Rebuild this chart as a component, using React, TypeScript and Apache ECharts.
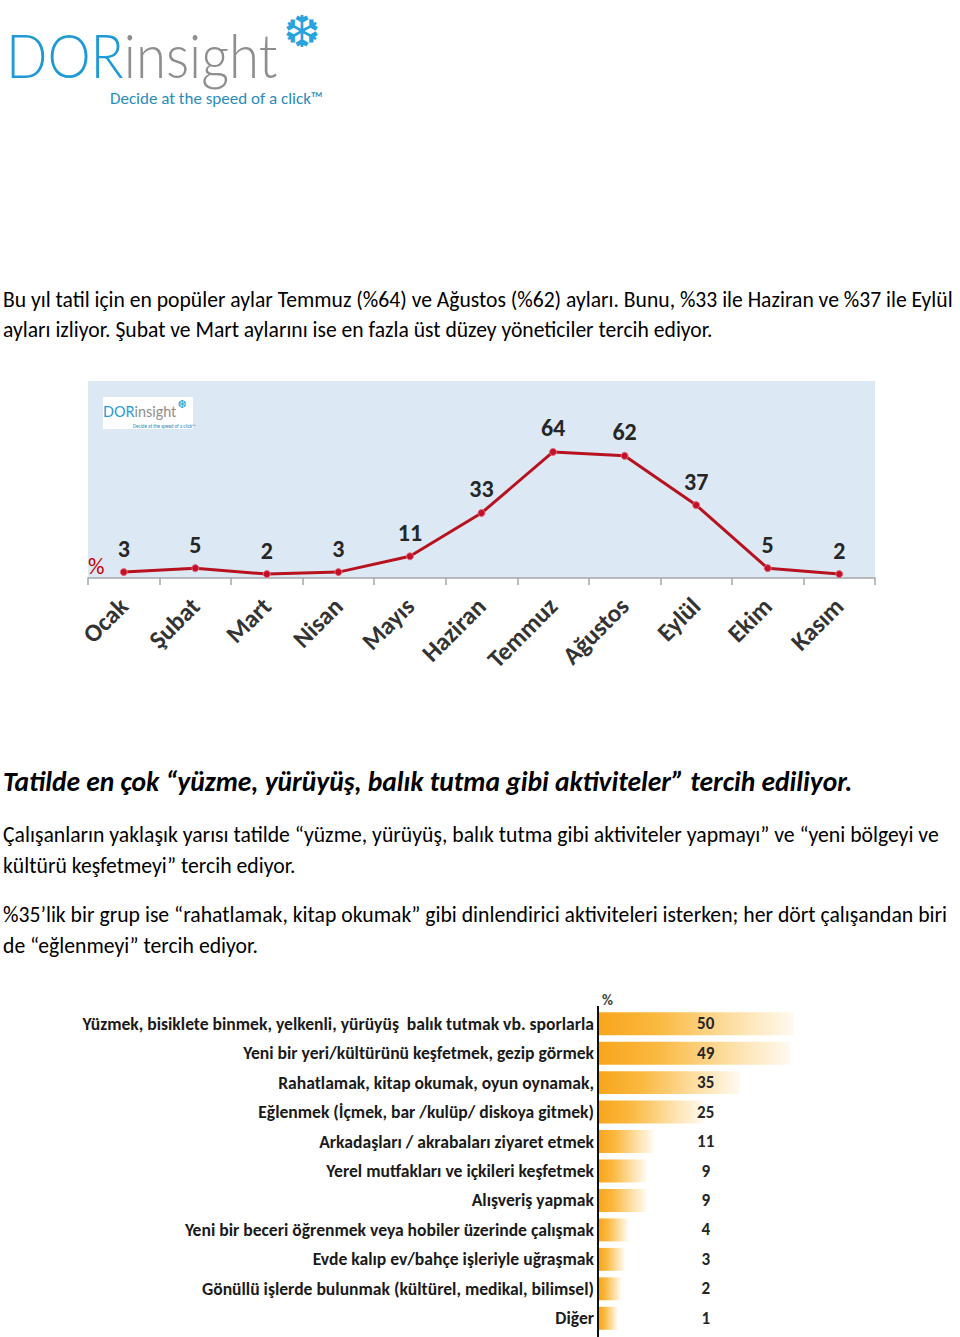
import React, { useEffect, useRef } from "react";
import * as echarts from "echarts";

const months = ["Ocak", "Şubat", "Mart", "Nisan", "Mayıs", "Haziran", "Temmuz", "Ağustos", "Eylül", "Ekim", "Kasım"];
const monthValues = [3, 5, 2, 3, 11, 33, 64, 62, 37, 5, 2];

const activities = [
  "Yüzmek, bisiklete binmek, yelkenli, yürüyüş  balık tutmak vb. sporlarla",
  "Yeni bir yeri/kültürünü keşfetmek, gezip görmek",
  "Rahatlamak, kitap okumak, oyun oynamak,",
  "Eğlenmek (İçmek, bar /kulüp/ diskoya gitmek)",
  "Arkadaşları / akrabaları ziyaret etmek",
  "Yerel mutfakları ve içkileri keşfetmek",
  "Alışveriş yapmak",
  "Yeni bir beceri öğrenmek veya hobiler üzerinde çalışmak",
  "Evde kalıp ev/bahçe işleriyle uğraşmak",
  "Gönüllü işlerde bulunmak (kültürel, medikal, bilimsel)",
  "Diğer",
];
const activityValues = [50, 49, 35, 25, 11, 9, 9, 4, 3, 2, 1];

const para1 = [
  "Bu yıl tatil için en popüler aylar Temmuz (%64) ve Ağustos (%62) ayları. Bunu, %33 ile Haziran ve %37 ile Eylül",
  "ayları izliyor. Şubat ve Mart aylarını ise en fazla üst düzey yöneticiler tercih ediyor.",
];
const heading = "Tatilde en çok “yüzme, yürüyüş, balık tutma gibi aktiviteler” tercih ediliyor.";
const para2 = [
  "Çalışanların yaklaşık yarısı tatilde “yüzme, yürüyüş, balık tutma gibi aktiviteler yapmayı” ve “yeni bölgeyi ve",
  "kültürü keşfetmeyi” tercih ediyor.",
];
const para3 = [
  "%35’lik bir grup ise “rahatlamak, kitap okumak” gibi dinlendirici aktiviteleri isterken; her dört çalışandan biri",
  "de “eğlenmeyi” tercih ediyor.",
];

const FF = "Carlito, Lato, 'DejaVu Sans', sans-serif";
const X_MIN = -4.4;
const X_MAX = 60;
const LABEL_AT = 25.5;

export default function App() {
  const ref = useRef<HTMLDivElement>(null);
  useEffect(() => {
    if (!ref.current) return;
    const chart = echarts.init(ref.current, null, { renderer: "svg" });

    const textEl = (x: number, y: number, text: string, font: string, fill = "#000", align = "left", scaleX = 1) => ({
      type: "text",
      x,
      y,
      scaleX,
      style: { text, font, fill, align, verticalAlign: "middle" },
    });

    const graphics: any[] = [
      // main logo
      {
        type: "text",
        x: 6,
        y: 54,
        scaleX: 0.88,
        style: {
          text: "{a|DOR}{b|insight}",
          verticalAlign: "middle",
          rich: {
            a: { fontFamily: "Lato, sans-serif", fontWeight: 300, fontSize: 62, fill: "#1f9ad6", color: "#1f9ad6" },
            b: { fontFamily: "Lato, sans-serif", fontWeight: 300, fontSize: 62, fill: "#8e8e8e", color: "#8e8e8e" },
          },
        },
      },
      textEl(302, 31, "❆", "44px 'DejaVu Sans'", "#27a3dd", "center"),
      textEl(110, 98, "Decide at the speed of a click™", `17px ${FF}`, "#2a8cbb"),
      // paragraph 1
      textEl(3, 299, para1[0], `21.6px ${FF}`),
      textEl(3, 329, para1[1], `21.6px ${FF}`),
      // line chart mini logo
      { type: "rect", shape: { x: 103, y: 397, width: 90, height: 32 }, style: { fill: "#ffffff" } },
      {
        type: "text",
        x: 103,
        y: 411,
        scaleX: 0.9,
        style: {
          text: "{a|DOR}{b|insight}",
          verticalAlign: "middle",
          rich: {
            a: { fontFamily: "Lato, sans-serif", fontSize: 16, fill: "#1f9ad6", color: "#1f9ad6" },
            b: { fontFamily: "Lato, sans-serif", fontSize: 16, fill: "#8e8e8e", color: "#8e8e8e" },
          },
        },
      },
      textEl(182, 404, "❆", "11px 'DejaVu Sans'", "#27a3dd", "center"),
      textEl(133, 426, "Decide at the speed of a click™", `5px ${FF}`, "#2a8cbb"),
      textEl(88, 566, "%", `23px ${FF}`, "#c00000"),
      // heading & paragraphs
      textEl(3, 781, heading, `italic bold 27.5px ${FF}`),
      textEl(3, 834, para2[0], `21.7px ${FF}`),
      textEl(3, 865, para2[1], `21.7px ${FF}`),
      textEl(3, 914, para3[0], `21.7px ${FF}`),
      textEl(3, 945, para3[1], `21.7px ${FF}`),
      // bar chart % label
      textEl(602, 1000, "%", `bold 15px ${FF}`, "#404040"),
      {
        type: "line",
        shape: { x1: 598, y1: 1006, x2: 598, y2: 1337 },
        style: { stroke: "#111", lineWidth: 2 },
      },
    ];

    const barGradient = new echarts.graphic.LinearGradient(0, 0, 1, 0, [
      { offset: 0, color: "#f8a51c" },
      { offset: 0.3, color: "#fab940" },
      { offset: 0.7, color: "#fde0a8" },
      { offset: 1, color: "#fffaf1" },
    ]);

    chart.setOption({
      animation: false,
      backgroundColor: "#ffffff",
      grid: [
        {
          left: 88,
          top: 381,
          width: 787,
          height: 197,
          show: true,
          backgroundColor: "#dce9f5",
          borderWidth: 0,
        },
        {
          left: 598,
          top: 1009,
          width: 232,
          height: 324,
          show: false,
        },
      ],
      xAxis: [
        {
          type: "category",
          gridIndex: 0,
          data: months,
          boundaryGap: true,
          axisLine: { lineStyle: { color: "#a6a6a6", width: 1.5 } },
          axisTick: { show: true, length: 7, lineStyle: { color: "#a6a6a6", width: 1.5 } },
          axisLabel: {
            interval: 0,
            rotate: 45,
            margin: 24,
            fontFamily: FF,
            fontWeight: "bold",
            fontSize: 25,
            color: "#333333",
          },
        },
        {
          type: "value",
          gridIndex: 1,
          min: X_MIN,
          max: X_MAX,
          show: false,
        },
      ],
      yAxis: [
        {
          type: "value",
          gridIndex: 0,
          min: 0,
          max: 100,
          show: false,
        },
        {
          type: "category",
          gridIndex: 1,
          data: activities,
          inverse: true,
          axisLine: { show: false, onZero: false },
          axisTick: { show: false },
          axisLabel: {
            interval: 0,
            margin: 4,
            fontFamily: FF,
            fontWeight: "bold",
            fontSize: 17.6,
            color: "#1a1a1a",
          },
        },
      ],
      series: [
        {
          type: "line",
          xAxisIndex: 0,
          yAxisIndex: 0,
          data: monthValues,
          symbol: "circle",
          symbolSize: 7,
          lineStyle: { color: "#b8111f", width: 3 },
          itemStyle: { color: "#c0102a", borderColor: "#e86a7a", borderWidth: 1 },
          label: {
            show: true,
            position: "top",
            distance: 8,
            fontFamily: FF,
            fontWeight: "bold",
            fontSize: 24,
            color: "#262626",
          },
        },
        {
          type: "custom",
          xAxisIndex: 1,
          yAxisIndex: 1,
          data: activityValues.map((v, i) => [v, i]),
          encode: { x: 0, y: 1 },
          renderItem: (params: any, api: any) => {
            const v = api.value(0);
            const idx = api.value(1);
            const start = api.coord([X_MIN, idx]);
            const end = api.coord([v, idx]);
            const band = api.size([0, 1])[1];
            const h = band * 0.78;
            const lab = api.coord([LABEL_AT, idx]);
            return {
              type: "group",
              children: [
                {
                  type: "rect",
                  shape: { x: start[0] + 1, y: start[1] - h / 2, width: end[0] - start[0] - 1, height: h },
                  style: { fill: barGradient },
                },
                {
                  type: "text",
                  x: lab[0],
                  y: lab[1],
                  style: {
                    text: String(v),
                    font: `bold 17px ${FF}`,
                    fill: "#262626",
                    align: "center",
                    verticalAlign: "middle",
                  },
                },
              ],
            };
          },
        },
      ],
      graphic: graphics,
    });
    return () => chart.dispose();
  }, []);
  return (
    <div
      ref={ref}
      style={{ position: "absolute", left: 0, top: 0, width: 960, height: 1337, background: "#fff" }}
    />
  );
}
